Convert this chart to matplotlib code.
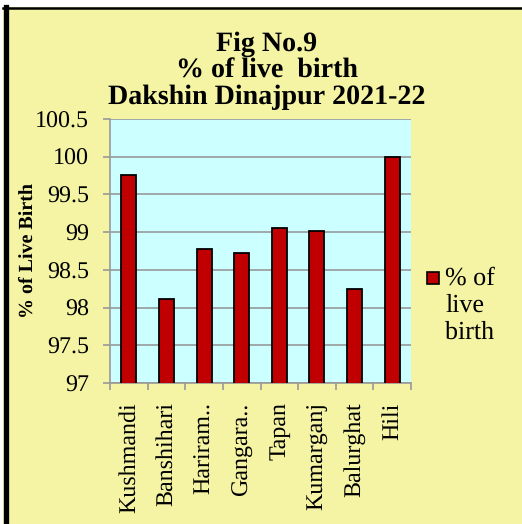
import matplotlib
matplotlib.use("Agg")
import matplotlib.pyplot as plt
from matplotlib.patches import Rectangle
from matplotlib.lines import Line2D

# ── data ─────────────────────────────────────────────
blocks = ["Kushmandi", "Banshihari", "Hariram..", "Gangara..",
          "Tapan", "Kumarganj", "Balurghat", "Hili"]
live_birth_pct = [99.76, 98.11, 98.77, 98.72, 99.05, 99.02, 98.25, 100.0]
y_ticks = [97, 97.5, 98, 98.5, 99, 99.5, 100, 100.5]
y_tick_labels = ["97", "97.5", "98", "98.5", "99", "99.5", "100", "100.5"]

# ── style ────────────────────────────────────────────
W, H = 522, 524
BG = "#F4F4A4"
PLOT_BG = "#CCFFFF"
BAR = "#C00000"
GRID = "#999999"
SERIF = "Liberation Serif"

plt.rcParams["font.family"] = [SERIF, "DejaVu Serif"]
plt.rcParams["font.serif"] = [SERIF]
plt.rcParams["text.hinting"] = "no_hinting"
plt.rcParams["text.hinting_factor"] = 1

fig = plt.figure(figsize=(W / 100, H / 100), dpi=100, facecolor="white")

# chart frame (cropped at right/bottom in the original)
fig.add_artist(Rectangle((3 / W, 0), 1, 1 - 7 / H, transform=fig.transFigure,
                         facecolor=BG, edgecolor="none", zorder=-10))
fig.add_artist(Line2D([5.5 / W, 5.5 / W], [0, 1 - 7 / H], transform=fig.transFigure,
                      color="black", lw=3.8))
fig.add_artist(Line2D([3 / W, 1], [1 - 8 / H, 1 - 8 / H], transform=fig.transFigure,
                      color="black", lw=1.8))

ax = fig.add_axes([110 / W, 1 - 383 / H, 301 / W, 264 / H])
ax.set_facecolor(PLOT_BG)

x = list(range(len(blocks)))
ax.bar(x, live_birth_pct, width=0.4, color=BAR,
       edgecolor="black", linewidth=1.3, zorder=3)

ax.set_ylim(97, 100.5)
ax.set_xlim(-0.5, len(blocks) - 0.5)
ax.set_yticks(y_ticks)
ax.set_yticklabels(y_tick_labels, fontfamily=SERIF, fontsize=17)
ax.yaxis.grid(True, color=GRID, lw=1.2, zorder=1)
ax.set_axisbelow(True)

ax.set_xticks(x)
ax.set_xticklabels(blocks, rotation=90, va="top", ha="center",
                   fontfamily=SERIF, fontsize=17)
ax.set_xticks([i - 0.5 for i in range(len(blocks) + 1)], minor=True)
ax.tick_params(axis="x", which="major", length=0, pad=14)
ax.tick_params(axis="x", which="minor", length=5, width=1.2, color=GRID)
ax.tick_params(axis="y", length=5, width=1.2, color=GRID, pad=10)

for side in ["top", "right"]:
    ax.spines[side].set_visible(False)
for side in ["left", "bottom"]:
    ax.spines[side].set_color(GRID)
    ax.spines[side].set_linewidth(1.2)

ax.set_ylabel("% of Live Birth", fontsize=14.5, fontweight="bold",
              fontfamily=SERIF)
ax.yaxis.set_label_coords(-73 / 301, 0.5)

# title
title_lines = ["Fig No.9", "% of live  birth", "Dakshin Dinajpur 2021-22"]
for line, ypix in zip(title_lines, [44, 71, 97]):
    fig.text(267 / W, 1 - ypix / H, line, ha="center", va="center",
             fontsize=20, fontweight="bold", fontfamily=SERIF)

# legend
fig.add_artist(Rectangle((427 / W, 1 - 284 / H), 12 / W, 12 / H,
                         transform=fig.transFigure, facecolor=BAR,
                         edgecolor="black", lw=1.2))
fig.text(445 / W, 1 - 267 / H, "% of\nlive\nbirth", ha="left", va="top",
         fontsize=19, linespacing=1.18, fontfamily=SERIF)

fig.savefig("out.png", dpi=100, facecolor="white")
